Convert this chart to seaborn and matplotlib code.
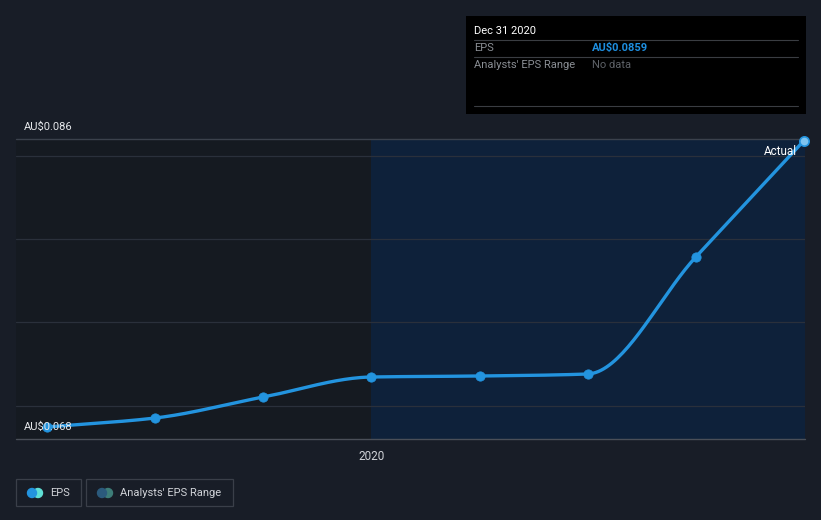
import numpy as np
import pandas as pd
import matplotlib
matplotlib.use("Agg")
import matplotlib.pyplot as plt
import seaborn as sns
from matplotlib.patches import Rectangle, Circle

# ---- data ----
quarters = ["Mar 2019", "Jun 2019", "Sep 2019", "Dec 2019",
            "Mar 2020", "Jun 2020", "Sep 2020", "Dec 2020"]
eps = [0.06872, 0.06926, 0.07052, 0.07172, 0.07178, 0.0719, 0.07892, 0.0859]
y_labels = ["AU$0.068", "AU$0.086"]
x_tick_label = "2020"

sns.set_theme(style="dark")
plt.rcParams['font.family'] = ['Roboto', 'DejaVu Sans']

BG = "#181d27"
W, H = 821, 520
fig = plt.figure(figsize=(W / 100, H / 100), dpi=100, facecolor=BG)

L, R, T, B = 16, 805, 139, 439
ax = fig.add_axes([L / W, (H - B) / H, (R - L) / W, (B - T) / H])
ax.set_facecolor(BG)

x = np.arange(len(eps), dtype=float)
df = pd.DataFrame({"q": x, "eps": eps, "label": quarters})

xmin, xmax = -0.287, 7.01
ymin, ymax = 0.068, 0.086
ax.set_xlim(xmin, xmax)
ax.set_ylim(ymin, ymax)

# shaded regions
ax.axvspan(xmin, 3, color="#151a21", zorder=0, lw=0)
ax.axvspan(3, xmax, color="#0e213a", zorder=0, lw=0)

# grid lines
for g in [0.070, 0.075, 0.080, 0.085]:
    ax.axhline(g, color="#2a303b", lw=0.9, zorder=1)
ax.axhline(ymax, color="#3b414c", lw=1.0, zorder=1, clip_on=False)
ax.axhline(ymin, color="#4a4f58", lw=1.0, zorder=1, clip_on=False)

# smooth monotone curve through the data points (rendering only)
def pchip(xs, ys, n=40):
    xs = np.asarray(xs); ys = np.asarray(ys)
    h = np.diff(xs); d = np.diff(ys) / h
    m = np.zeros_like(ys)
    m[0], m[-1] = d[0], d[-1]
    for i in range(1, len(ys) - 1):
        if d[i - 1] * d[i] <= 0:
            m[i] = 0
        else:
            w1 = 2 * h[i] + h[i - 1]; w2 = h[i] + 2 * h[i - 1]
            m[i] = (w1 + w2) / (w1 / d[i - 1] + w2 / d[i])
    px, py = [], []
    for i in range(len(h)):
        t = np.linspace(0, 1, n, endpoint=(i == len(h) - 1))
        h00 = 2 * t**3 - 3 * t**2 + 1; h10 = t**3 - 2 * t**2 + t
        h01 = -2 * t**3 + 3 * t**2; h11 = t**3 - t**2
        px.append(xs[i] + t * h[i])
        py.append(h00 * ys[i] + h10 * h[i] * m[i] + h01 * ys[i + 1] + h11 * h[i] * m[i + 1])
    return np.concatenate(px), np.concatenate(py)

LINE = "#2394df"
cx, cy = pchip(df["q"], df["eps"])
ax.plot(cx, cy, color=LINE, lw=2.4, zorder=3, solid_capstyle="round")
sns.scatterplot(data=df.iloc[:-1], x="q", y="eps", ax=ax, color=LINE, s=45,
                edgecolor=LINE, zorder=4, legend=False)
ax.scatter([df["q"].iloc[-1]], [df["eps"].iloc[-1]], s=45, color="#7fc4f0",
           edgecolor=LINE, linewidth=1.2, zorder=5, clip_on=False)

ax.set_xlabel(""); ax.set_ylabel("")
ax.set_xticks([3])
ax.set_xticklabels([x_tick_label], color="#d0d3d8", fontsize=8.5)
ax.tick_params(axis="x", length=4, color="#4a4f58", pad=4)
ax.set_yticks([])
for s in ax.spines.values():
    s.set_visible(False)

# y labels
fig.text(24 / W, 1 - 127 / H, y_labels[1], color="#e6e8eb", fontsize=8, va="center", ha="left")
fig.text(24 / W, 1 - 427 / H, y_labels[0], color="#e6e8eb", fontsize=8, va="center", ha="left", zorder=2)

fig.text(797 / W, 1 - 151 / H, "Actual", color="#ffffff", fontsize=8.5, va="center", ha="right")

# tooltip box
fig.patches.append(Rectangle((466 / W, 1 - 114 / H), 340 / W, 98 / H, transform=fig.transFigure,
                             facecolor="#000000", edgecolor="none"))
for yy in [40, 57, 106]:
    fig.add_artist(plt.Line2D([474 / W, 798 / W], [1 - yy / H, 1 - yy / H], color="#3a3d42", lw=0.8))
fig.text(474 / W, 1 - 31 / H, "Dec 31 2020", color="#ffffff", fontsize=8, va="center")
fig.text(474 / W, 1 - 48 / H, "EPS", color="#8a8e94", fontsize=8, va="center")
fig.text(592 / W, 1 - 48 / H, "AU$0.0859", color="#1e8fe1", fontsize=8, va="center", weight="bold")
fig.text(474 / W, 1 - 65 / H, "Analysts' EPS Range", color="#8a8e94", fontsize=8, va="center")
fig.text(592 / W, 1 - 65 / H, "No data", color="#5e6268", fontsize=8, va="center")

# legend
def legend_box(x0, x1, label, tx):
    fig.patches.append(Rectangle((x0 / W, 1 - 506 / H), (x1 - x0) / W, 27 / H,
                                 transform=fig.transFigure, facecolor="none",
                                 edgecolor="#3a3f49", lw=0.9))
    fig.text(tx / W, 1 - 493 / H, label, color="#d0d3d8", fontsize=8, va="center")

legend_box(16, 81, "EPS", 50)
legend_box(86, 233, "Analysts' EPS Range", 120)
ax_leg = fig.add_axes([0, 0, 1, 1], facecolor="none")
ax_leg.set_xlim(0, W); ax_leg.set_ylim(H, 0); ax_leg.axis("off")
for (xa, xb, ca, cb) in [(32, 38, "#2394df", "#5fe0d6"), (102, 108, "#2b5a7c", "#3d7d78")]:
    ax_leg.add_patch(Circle((xb, 493), 4.5, color=cb))
    ax_leg.add_patch(Circle((xa, 493), 4.5, color=ca))

fig.savefig("out.png", dpi=100, facecolor=BG)
